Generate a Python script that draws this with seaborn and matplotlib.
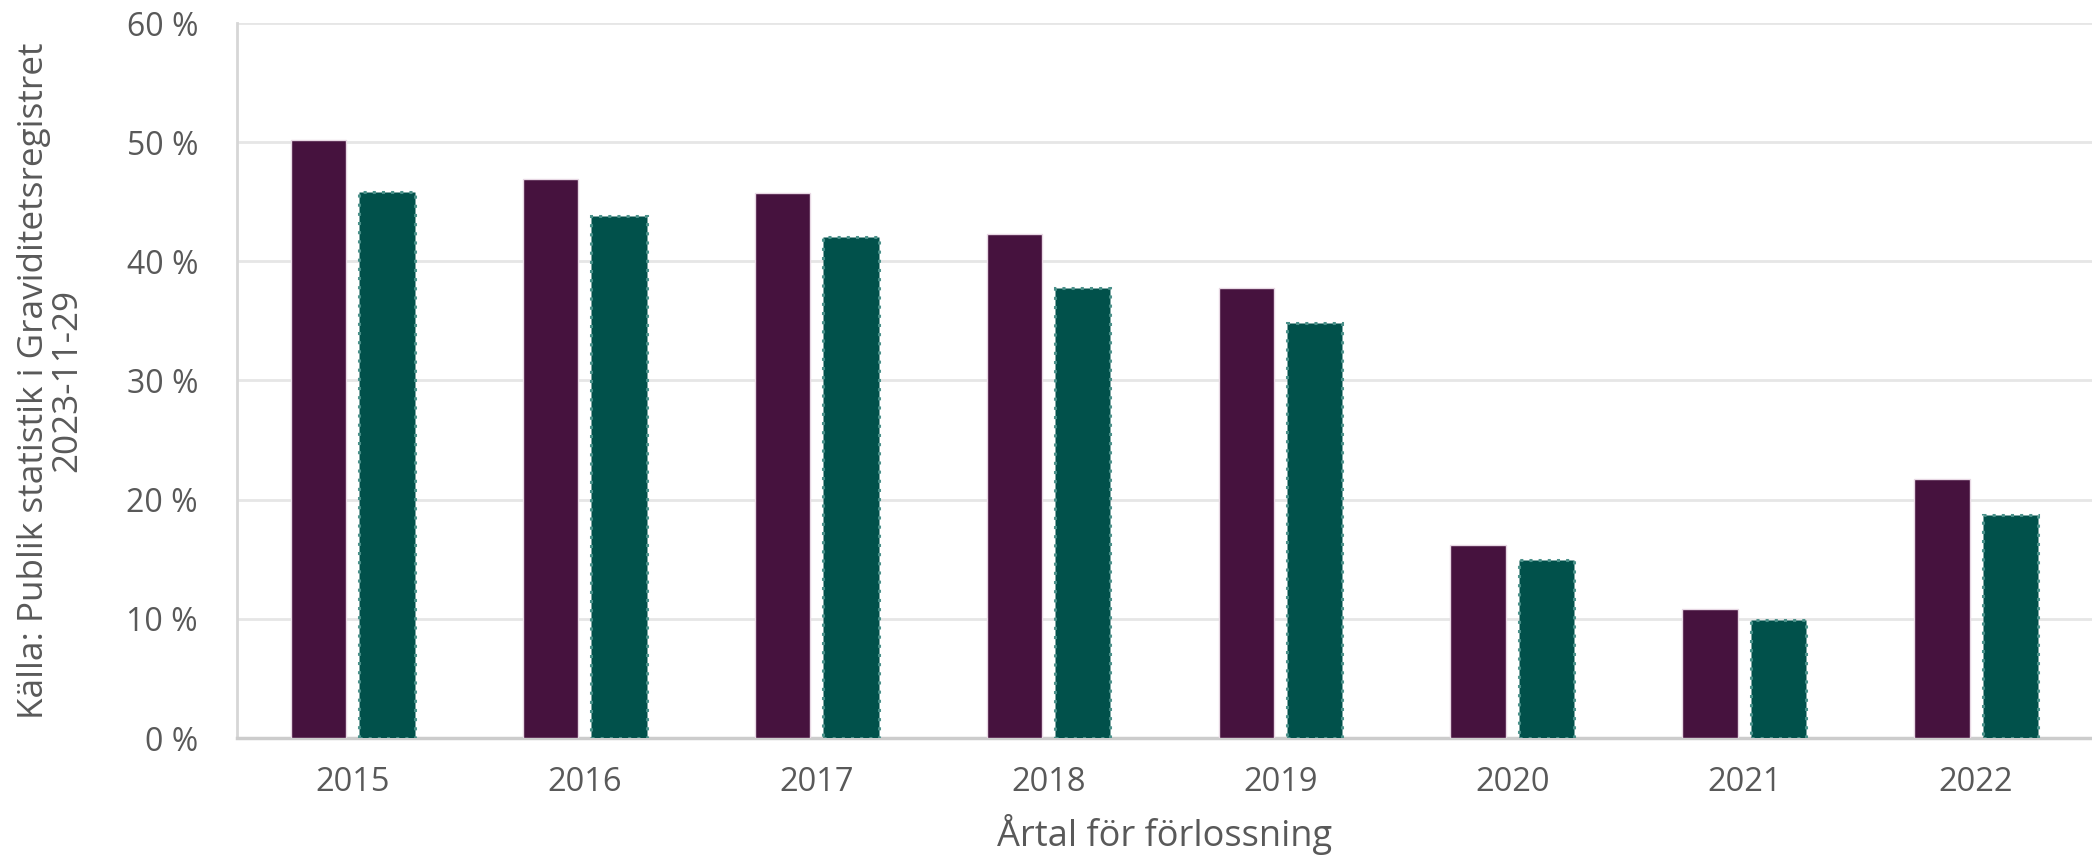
import matplotlib
matplotlib.use("Agg")
import matplotlib.pyplot as plt
import seaborn as sns
import pandas as pd
from matplotlib.ticker import FuncFormatter, MultipleLocator

years = ["2015", "2016", "2017", "2018", "2019", "2020", "2021", "2022"]
series_a = [50.2, 46.9, 45.7, 42.3, 37.8, 16.2, 10.8, 21.7]
series_b = [45.8, 43.8, 42.0, 37.8, 34.8, 14.9, 9.9, 18.7]
series_names = ["Serie A", "Serie B"]

df = pd.DataFrame({
    "year": years * 2,
    "value": series_a + series_b,
    "series": [series_names[0]] * len(years) + [series_names[1]] * len(years),
})

sns.set_theme(style="white")
plt.rcParams["font.family"] = ["Open Sans", "DejaVu Sans"]

fig = plt.figure(figsize=(20.92, 8.55), dpi=100)
ax = fig.add_axes([237 / 2092, 117 / 855, 1855 / 2092, 715 / 855])

palette = {series_names[0]: "#46123e", series_names[1]: "#01514b"}
sns.barplot(data=df, x="year", y="value", hue="series", order=years,
            hue_order=series_names, palette=palette, width=0.59, gap=0.19,
            saturation=1, legend=False, ax=ax, zorder=3)

n = len(years)
for i, p in enumerate(ax.patches):
    if i < n:
        p.set_edgecolor("#e8d8e4")
        p.set_linewidth(1.0)
    else:
        p.set_edgecolor("#4a918a")
        p.set_linewidth(2.2)
        p.set_linestyle((0, (1, 2.0)))

ax.set_ylim(0, 60)
ax.set_xlim(-0.5, n - 0.5)
ax.yaxis.set_major_locator(MultipleLocator(10))
ax.yaxis.set_major_formatter(FuncFormatter(lambda v, _: f"{int(v)} %"))
ax.grid(axis="y", color="#e6e6e6", linewidth=2, zorder=0)
ax.set_axisbelow(True)

for s in ["top", "right"]:
    ax.spines[s].set_visible(False)
ax.spines["left"].set_color("#d6d6d6")
ax.spines["left"].set_linewidth(2)
ax.spines["bottom"].set_color("#cccccc")
ax.spines["bottom"].set_linewidth(2.5)

text_color = "#595959"
ax.tick_params(axis="y", length=0, pad=28, labelsize=23, labelcolor=text_color)
ax.tick_params(axis="x", length=0, pad=20, labelsize=23.5, labelcolor=text_color)

ax.set_xlabel("Årtal för förlossning", fontsize=26, color=text_color, labelpad=11)
ax.set_ylabel("Källa: Publik statistik i Graviditetsregistret\n2023-11-29",
              fontsize=25.3, color=text_color, linespacing=0.95)
ax.yaxis.set_label_coords(-0.0825, 0.5)

fig.savefig("out.png", dpi=100)
